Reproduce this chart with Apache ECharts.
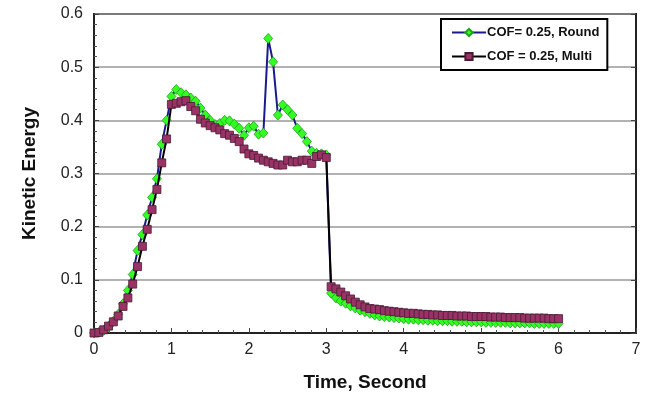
<!DOCTYPE html>
<html>
<head>
<meta charset="utf-8">
<script src="https://cdn.jsdelivr.net/npm/echarts@6/dist/echarts.min.js"></script>
<style>
  html, body { margin: 0; padding: 0; background: #fff; }
  #chart { width: 646px; height: 397px; }
</style>
</head>
<body>
<div id="chart"></div>
<script>
// time samples, seconds
var times = [
  0, 0.0625, 0.125, 0.1875, 0.25, 0.3125, 0.375, 0.4375,
  0.5, 0.5625, 0.625, 0.6875, 0.75, 0.8125, 0.875, 0.9375,
  1, 1.0625, 1.125, 1.1875, 1.25, 1.3125, 1.375, 1.4375,
  1.5, 1.5625, 1.625, 1.6875, 1.75, 1.8125, 1.875, 1.9375,
  2, 2.0625, 2.125, 2.1875, 2.25, 2.3125, 2.375, 2.4375,
  2.5, 2.5625, 2.625, 2.6875, 2.75, 2.8125, 2.875, 2.9375,
  3, 3.0625, 3.125, 3.1875, 3.25, 3.3125, 3.375, 3.4375,
  3.5, 3.5625, 3.625, 3.6875, 3.75, 3.8125, 3.875, 3.9375,
  4, 4.0625, 4.125, 4.1875, 4.25, 4.3125, 4.375, 4.4375,
  4.5, 4.5625, 4.625, 4.6875, 4.75, 4.8125, 4.875, 4.9375,
  5, 5.0625, 5.125, 5.1875, 5.25, 5.3125, 5.375, 5.4375,
  5.5, 5.5625, 5.625, 5.6875, 5.75, 5.8125, 5.875, 5.9375,
  6
];
// COF= 0.25, Round
var roundKE = [
  0, 0.001, 0.005, 0.012, 0.022, 0.035, 0.055, 0.08,
  0.11, 0.155, 0.185, 0.222, 0.255, 0.29, 0.355, 0.40,
  0.445, 0.458, 0.452, 0.448, 0.442, 0.436, 0.423, 0.41,
  0.4, 0.392, 0.394, 0.4, 0.399, 0.393, 0.385, 0.372,
  0.386, 0.389, 0.374, 0.376, 0.554, 0.51, 0.41, 0.429,
  0.42, 0.41, 0.385, 0.375, 0.36, 0.342, 0.338, 0.337,
  0.335, 0.075, 0.066, 0.06, 0.056, 0.051, 0.047, 0.043,
  0.04, 0.037, 0.034, 0.032, 0.031, 0.03, 0.029, 0.028,
  0.027, 0.026, 0.026, 0.025, 0.025, 0.024, 0.024, 0.023,
  0.023, 0.023, 0.022, 0.022, 0.022, 0.021, 0.021, 0.021,
  0.021, 0.02, 0.02, 0.02, 0.02, 0.02, 0.019, 0.019,
  0.019, 0.019, 0.019, 0.018, 0.018, 0.018, 0.018, 0.018,
  0.018
];
// COF = 0.25, Multi
var multiKE = [
  0, 0.001, 0.006, 0.013, 0.021, 0.032, 0.05, 0.066,
  0.092, 0.125, 0.163, 0.195, 0.232, 0.27, 0.32, 0.365,
  0.43, 0.432, 0.435, 0.437, 0.426, 0.418, 0.402, 0.395,
  0.39, 0.386, 0.382, 0.375, 0.372, 0.366, 0.36, 0.346,
  0.337, 0.334, 0.329, 0.325, 0.322, 0.319, 0.316, 0.316,
  0.325, 0.322, 0.322, 0.325, 0.325, 0.319, 0.332, 0.335,
  0.33, 0.087, 0.083, 0.077, 0.07, 0.064, 0.058, 0.053,
  0.049, 0.046, 0.045, 0.044, 0.042, 0.041, 0.04, 0.039,
  0.038, 0.037, 0.037, 0.036, 0.035, 0.035, 0.034, 0.034,
  0.033, 0.033, 0.033, 0.032, 0.032, 0.032, 0.031, 0.031,
  0.031, 0.031, 0.03, 0.03, 0.03, 0.029, 0.029, 0.029,
  0.029, 0.028, 0.028, 0.028, 0.028, 0.028, 0.027, 0.027,
  0.027
];
var seriesNames = ['COF= 0.25, Round', 'COF = 0.25, Multi'];

function pairs(xs, ys) {
  return xs.map(function (x, i) { return [x, ys[i]]; });
}

var font = 'Liberation Sans, Arial, sans-serif';
var chart = echarts.init(document.getElementById('chart'));

var option = {
  animation: false,
  backgroundColor: '#fff',
  textStyle: { fontFamily: font },
  grid: {
    left: 94, right: 10, top: 14, bottom: 64,
    show: true, borderColor: '#222', borderWidth: 2, backgroundColor: 'transparent'
  },
  legend: {
    data: seriesNames,
    orient: 'vertical',
    left: 441, top: 19,
    width: 190,
    padding: [7, 8, 7, 10],
    itemGap: 11,
    itemWidth: 34, itemHeight: 9,
    backgroundColor: '#fff',
    borderColor: '#000', borderWidth: 2,
    textStyle: { fontFamily: font, fontWeight: 'bold', fontSize: 13, color: '#111', padding: [0, 0, 0, -4] }
  },
  xAxis: {
    type: 'value',
    min: 0, max: 7, interval: 1,
    name: 'Time, Second',
    nameLocation: 'middle',
    nameGap: 40,
    nameTextStyle: { fontFamily: font, fontWeight: 'bold', fontSize: 19, color: '#111' },
    axisLine: { lineStyle: { color: '#222', width: 2 } },
    axisTick: { inside: true, length: 5, lineStyle: { color: '#444' } },
    minorTick: { show: true, splitNumber: 5, length: 3, lineStyle: { color: '#555' } },
    axisLabel: { fontSize: 16, color: '#222', margin: 9 },
    splitLine: { show: false }
  },
  yAxis: [{
    type: 'value',
    min: 0, max: 0.6, interval: 0.1,
    name: 'Kinetic Energy',
    nameLocation: 'middle',
    nameGap: 55,
    nameTextStyle: { fontFamily: font, fontWeight: 'bold', fontSize: 19, color: '#111' },
    axisLine: { show: true, lineStyle: { color: '#222', width: 2 } },
    axisTick: { inside: true, length: 5, lineStyle: { color: '#444' } },
    minorTick: { show: true, splitNumber: 5, length: 3, lineStyle: { color: '#555' } },
    axisLabel: { fontSize: 16, color: '#222', margin: 11 },
    splitLine: { lineStyle: { color: '#999', width: 1.5 } }
  }, {
    type: 'value',
    position: 'right',
    min: 0, max: 0.6, interval: 0.1,
    axisLine: { show: true, lineStyle: { color: '#222', width: 2 } },
    axisTick: { show: true, inside: true, length: 5, lineStyle: { color: '#444' } },
    axisLabel: { show: false },
    splitLine: { show: false }
  }],
  series: [{
    name: seriesNames[0],
    type: 'line',
    data: pairs(times, roundKE),
    symbol: 'diamond',
    symbolSize: [9, 10],
    lineStyle: { color: '#1a1a8c', width: 2 },
    itemStyle: { color: '#33ff22', borderColor: '#1e9e1e', borderWidth: 0.8 },
    z: 2
  }, {
    name: seriesNames[1],
    type: 'line',
    data: pairs(times, multiKE),
    symbol: 'rect',
    symbolSize: 8,
    lineStyle: { color: '#000', width: 2 },
    itemStyle: { color: '#993366', borderColor: '#4a1a33', borderWidth: 0.8 },
    z: 3
  }]
};
chart.setOption(option);
</script>
</body>
</html>
